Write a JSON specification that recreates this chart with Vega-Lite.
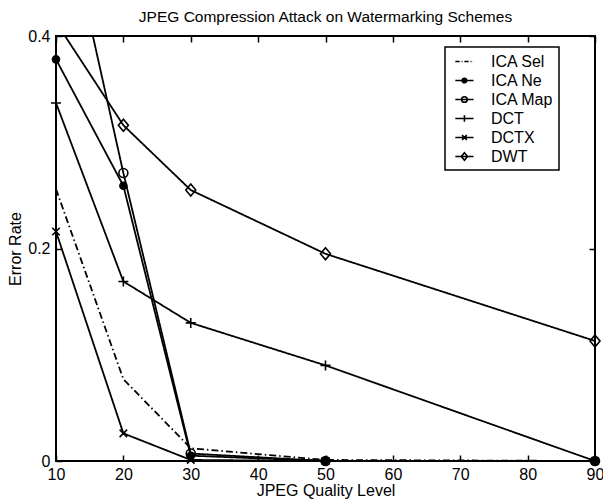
{
  "$schema": "https://vega.github.io/schema/vega-lite/v6.json",
  "width": 539,
  "height": 425,
  "autosize": "none",
  "padding": {"left": 56, "top": 36, "right": 8, "bottom": 41},
  "background": "white",
  "title": {"text": "JPEG Compression Attack on Watermarking Schemes", "fontSize": 15.5, "fontWeight": "normal", "font": "Liberation Sans", "color": "black", "offset": 3},
  "config": {
    "view": {"stroke": "black", "strokeWidth": 2},
    "font": "Liberation Sans",
    "axis": {"domain": false, "grid": false, "labelFlush": false, "tickColor": "black", "tickWidth": 1.5, "tickSize": 6, "offset": -6, "labelColor": "black", "labelFontSize": 16, "labelFont": "Liberation Sans", "titleColor": "black", "titleFontSize": 16, "titleFont": "Liberation Sans", "titleFontWeight": "normal"}
  },
  "data": {"values": [
    {"scheme": "ICA Sel", "quality": 10, "rate": 0.256},
    {"scheme": "ICA Sel", "quality": 20, "rate": 0.077},
    {"scheme": "ICA Sel", "quality": 30, "rate": 0.012},
    {"scheme": "ICA Sel", "quality": 50, "rate": 0.001},
    {"scheme": "ICA Sel", "quality": 90, "rate": 0.0},
    {"scheme": "ICA Ne", "quality": 10, "rate": 0.378},
    {"scheme": "ICA Ne", "quality": 20, "rate": 0.259},
    {"scheme": "ICA Ne", "quality": 30, "rate": 0.005},
    {"scheme": "ICA Ne", "quality": 50, "rate": 0.0},
    {"scheme": "ICA Ne", "quality": 90, "rate": 0.0},
    {"scheme": "ICA Map", "quality": 10, "rate": 0.556},
    {"scheme": "ICA Map", "quality": 20, "rate": 0.271},
    {"scheme": "ICA Map", "quality": 30, "rate": 0.007},
    {"scheme": "ICA Map", "quality": 50, "rate": 0.0},
    {"scheme": "ICA Map", "quality": 90, "rate": 0.0},
    {"scheme": "DCT", "quality": 10, "rate": 0.337},
    {"scheme": "DCT", "quality": 20, "rate": 0.169},
    {"scheme": "DCT", "quality": 30, "rate": 0.130},
    {"scheme": "DCT", "quality": 50, "rate": 0.090},
    {"scheme": "DCT", "quality": 90, "rate": 0.0},
    {"scheme": "DCTX", "quality": 10, "rate": 0.216},
    {"scheme": "DCTX", "quality": 20, "rate": 0.026},
    {"scheme": "DCTX", "quality": 30, "rate": 0.001},
    {"scheme": "DCTX", "quality": 50, "rate": 0.0},
    {"scheme": "DCTX", "quality": 90, "rate": 0.0},
    {"scheme": "DWT", "quality": 10, "rate": 0.413},
    {"scheme": "DWT", "quality": 20, "rate": 0.316},
    {"scheme": "DWT", "quality": 30, "rate": 0.255},
    {"scheme": "DWT", "quality": 50, "rate": 0.195},
    {"scheme": "DWT", "quality": 90, "rate": 0.113}
  ]},
  "resolve": {
    "scale": {"shape": "independent", "fill": "independent", "strokeDash": "independent"},
    "axis": {"x": "independent", "y": "independent"},
    "legend": {"shape": "independent", "fill": "independent", "strokeDash": "independent"}
  },
  "layer": [
    {
      "mark": {"type": "line", "clip": true, "strokeWidth": 1.8, "color": "black"},
      "encoding": {
        "x": {"field": "quality", "type": "quantitative", "scale": {"domain": [10, 90], "nice": false, "zero": false},
              "axis": {"orient": "bottom", "title": "JPEG Quality Level", "values": [10, 20, 30, 40, 50, 60, 70, 80, 90], "labelPadding": 5, "titlePadding": 0}},
        "y": {"field": "rate", "type": "quantitative", "scale": {"domain": [0, 0.4], "nice": false, "zero": false},
              "axis": {"orient": "left", "title": "Error Rate", "values": [0, 0.2, 0.4], "format": "~g", "labelPadding": 6, "titlePadding": 4}},
        "detail": {"field": "scheme", "type": "nominal"},
        "strokeDash": {"field": "scheme", "type": "nominal",
                       "scale": {"domain": ["ICA Sel", "ICA Ne", "ICA Map", "DCT", "DCTX", "DWT"], "range": [[7, 3, 1.5, 3], [1, 0], [1, 0], [1, 0], [1, 0], [1, 0]]},
                       "legend": null}
      }
    },
    {
      "transform": [{"filter": "datum.scheme != 'ICA Sel' && datum.rate <= 0.4"}],
      "mark": {"type": "point", "filled": true, "stroke": "black", "strokeWidth": 1.6, "size": 100, "opacity": 1},
      "encoding": {
        "x": {"field": "quality", "type": "quantitative",
              "axis": {"orient": "top", "labels": false, "title": null, "values": [10, 20, 30, 40, 50, 60, 70, 80, 90]}},
        "y": {"field": "rate", "type": "quantitative",
              "axis": {"orient": "right", "labels": false, "title": null, "values": [0, 0.2, 0.4]}},
        "shape": {"field": "scheme", "type": "nominal",
                  "scale": {"domain": ["ICA Ne", "ICA Map", "DCT", "DCTX", "DWT"],
                            "range": [
                              "M0.7,0A0.7,0.7 0 1,1 -0.7,0A0.7,0.7 0 1,1 0.7,0Z",
                              "M0.9,0A0.9,0.9 0 1,1 -0.9,0A0.9,0.9 0 1,1 0.9,0Z",
                              "M-1,0H1M0,-1V1",
                              "M-0.75,-0.75L0.75,0.75M-0.75,0.75L0.75,-0.75",
                              "M0,-1.2L1,0L0,1.2L-1,0Z"
                            ]},
                  "legend": null},
        "fill": {"field": "scheme", "type": "nominal",
                 "scale": {"domain": ["ICA Ne", "ICA Map", "DCT", "DCTX", "DWT"], "range": ["black", "transparent", "transparent", "transparent", "transparent"]},
                 "legend": null}
      }
    },
    {
      "transform": [{"filter": "false"}],
      "mark": {"type": "point", "filled": true, "stroke": "black", "strokeWidth": 1.6, "opacity": 1},
      "encoding": {
        "shape": {"field": "scheme", "type": "nominal",
                  "scale": {"domain": ["ICA Sel", "ICA Ne", "ICA Map", "DCT", "DCTX", "DWT"],
                            "range": [
                              "M-0.49,0H0.02M0.24,0H0.35M0.57,0H1.08M1.3,0H1.41M1.63,0H1.65",
                              "M-0.49,0H1.65M0.84,0A0.26,0.26 0 1,1 0.32,0A0.26,0.26 0 1,1 0.84,0Z",
                              "M-0.49,0H1.65M0.91,0A0.33,0.33 0 1,1 0.25,0A0.33,0.33 0 1,1 0.91,0Z",
                              "M-0.49,0H1.65M0.58,-0.37V0.37",
                              "M-0.49,0H1.65M0.3,-0.28L0.86,0.28M0.3,0.28L0.86,-0.28",
                              "M-0.49,0H1.65M0.58,-0.44L0.95,0L0.58,0.44L0.21,0Z"
                            ]},
                  "legend": {"title": null, "orient": "none", "legendX": 389, "legendY": 11, "symbolSize": 289, "labelOffset": 22,
                             "labelFontSize": 16, "labelFont": "Liberation Sans", "labelColor": "black", "padding": 5, "rowPadding": 1,
                             "fillColor": "white", "strokeColor": "black", "symbolStrokeColor": "black", "symbolStrokeWidth": 1.6, "symbolOpacity": 1, "labelLimit": 300,
                             "encode": {"legend": {"update": {"strokeWidth": {"value": 1.5}}}, "symbols": {"update": {"stroke": {"value": "black"}, "strokeWidth": {"value": 1.6}, "opacity": {"value": 1}}}}}},
        "fill": {"field": "scheme", "type": "nominal",
                 "scale": {"domain": ["ICA Sel", "ICA Ne", "ICA Map", "DCT", "DCTX", "DWT"], "range": ["transparent", "black", "transparent", "transparent", "transparent", "transparent"]},
                 "legend": {"title": null, "orient": "none", "legendX": 389, "legendY": 11, "symbolSize": 289, "labelOffset": 22,
                            "labelFontSize": 16, "labelFont": "Liberation Sans", "labelColor": "black", "padding": 5, "rowPadding": 1,
                            "fillColor": "white", "strokeColor": "black", "symbolStrokeColor": "black", "symbolStrokeWidth": 1.6, "symbolOpacity": 1, "labelLimit": 300,
                            "encode": {"legend": {"update": {"strokeWidth": {"value": 1.5}}}, "symbols": {"update": {"stroke": {"value": "black"}, "strokeWidth": {"value": 1.6}, "opacity": {"value": 1}}}}}}
      }
    }
  ]
}
